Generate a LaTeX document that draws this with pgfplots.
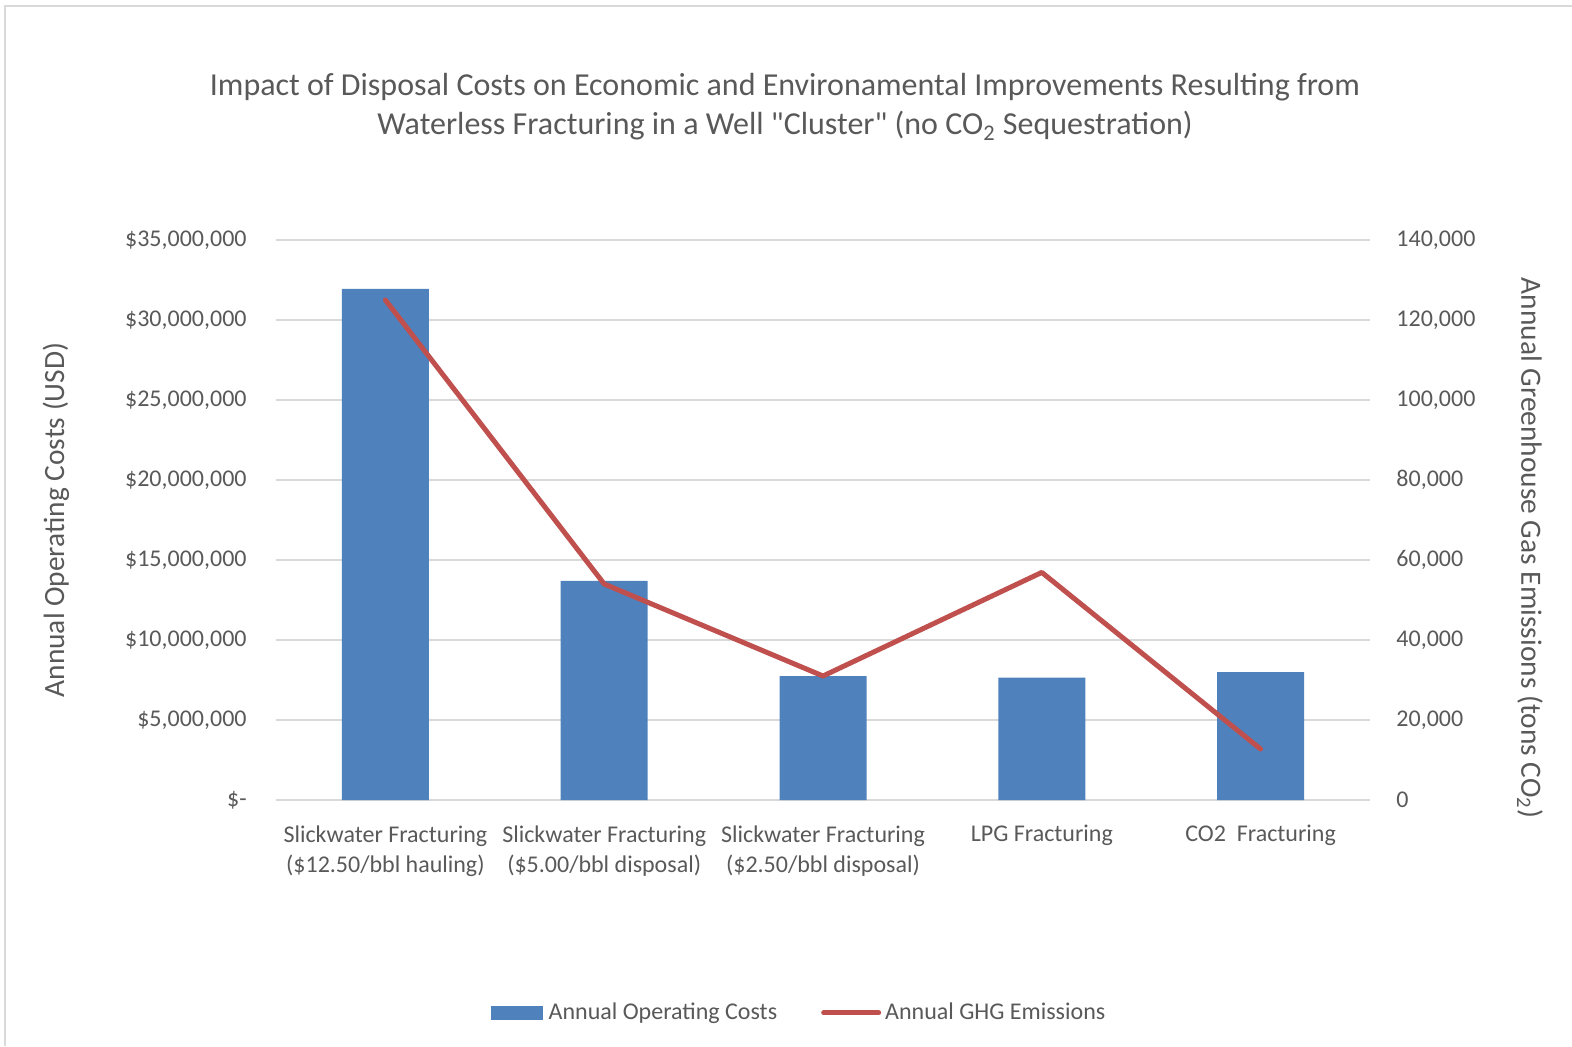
\documentclass[border=0pt]{standalone}
\usepackage{pgfplots}
\pgfplotsset{compat=1.18}
\usepackage{fontspec}
\setmainfont{Carlito}
\newfontfamily\plainq{Carlito}[Mapping=]
\definecolor{barblue}{HTML}{4F81BD}
\definecolor{linered}{HTML}{C0504D}
\definecolor{txtgray}{HTML}{595959}
\definecolor{gridgray}{HTML}{D9D9D9}
\begin{document}
\begin{tikzpicture}
\useasboundingbox (0pt,0pt) rectangle (786pt,-523.5pt);
\draw[gridgray, line width=0.8pt] (2.5pt,-523pt) -- (2.5pt,-3pt) -- (800pt,-3pt);
\node[align=center, text=txtgray, font=\fontsize{16}{19.5}\selectfont] at (392.5pt,-53.5pt)
  {Impact of Disposal Costs on Economic and Environamental Improvements Resulting from\\
   Waterless Fracturing in a Well {\plainq "}Cluster{\plainq "} (no CO\textsubscript{2} Sequestration)};
\node[rotate=90, text=txtgray, font=\fontsize{14.7}{16}\selectfont] at (28pt,-260pt) {Annual Operating Costs (USD)};
\node[rotate=-90, text=txtgray, font=\fontsize{14.7}{16}\selectfont] at (765pt,-274pt) {Annual Greenhouse Gas Emissions (tons CO\textsubscript{2})};
\begin{axis}[
  at={(138pt,-400pt)}, anchor=south west,
  scale only axis, width=547pt, height=280pt,
  xmin=-0.5, xmax=4.5, ymin=0, ymax=35000000,
  axis line style={draw=none},
  major tick length=0pt,
  ymajorgrids, grid style={gridgray, line width=0.8pt},
  ytick={0,5000000,10000000,15000000,20000000,25000000,30000000,35000000},
  yticklabels={\$-,{\$5,000,000},{\$10,000,000},{\$15,000,000},{\$20,000,000},{\$25,000,000},{\$30,000,000},{\$35,000,000}},
  yticklabel style={font=\fontsize{12}{14}\selectfont, text=txtgray, inner sep=0pt, xshift=-14.5pt},
  scaled y ticks=false,
  xtick={0,1,2,3,4},
  xticklabels={{Slickwater Fracturing\\(\$12.50/bbl hauling)},{Slickwater Fracturing\\(\$5.00/bbl disposal)},{Slickwater Fracturing\\(\$2.50/bbl disposal)},{LPG Fracturing},{CO2\ \ Fracturing}},
  xticklabel style={align=center, font=\fontsize{12}{15}\selectfont, text=txtgray, inner sep=0pt, yshift=-12.5pt},
  legend style={at={(0.479,-0.38)}, anchor=center, draw=none, legend columns=2,
    font=\fontsize{12}{14}\selectfont, text=txtgray,
    /tikz/every even column/.append style={column sep=20pt}},
]
\addplot[ybar, bar width=43.5pt, fill=barblue, draw=none,
  legend image code/.code={\fill[barblue] (0pt,-3.5pt) rectangle (26pt,3.5pt);}]
  coordinates {(0,31950000) (1,13700000) (2,7750000) (3,7650000) (4,8000000)};
\addlegendentry{\hspace{1pt}Annual Operating Costs}
\addlegendimage{legend image code/.code={\draw[linered, line width=2.5pt, line cap=round] (0pt,0pt) -- (27.5pt,0pt);}}
\addlegendentry{Annual GHG Emissions}
\end{axis}
\begin{axis}[
  at={(138pt,-400pt)}, anchor=south west,
  scale only axis, width=547pt, height=280pt,
  xmin=-0.5, xmax=4.5, ymin=0, ymax=140000,
  axis x line=none, axis y line*=right,
  axis line style={draw=none},
  major tick length=0pt,
  ytick={0,20000,40000,60000,80000,100000,120000,140000},
  yticklabels={0,{20,000},{40,000},{60,000},{80,000},{100,000},{120,000},{140,000}},
  yticklabel style={font=\fontsize{12}{14}\selectfont, text=txtgray, inner sep=0pt, xshift=13pt, anchor=west},
  scaled y ticks=false,
]
\addplot[linered, line width=2.5pt, line cap=round, line join=round, mark=none]
  coordinates {(0,125000) (1,54000) (2,31000) (3,56900) (4,12750)};
\end{axis}
\end{tikzpicture}
\end{document}
